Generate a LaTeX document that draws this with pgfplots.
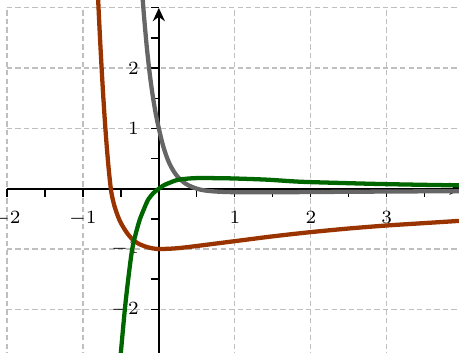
\documentclass[border=0pt]{standalone}
\usepackage{pgfplots}
\pgfplotsset{compat=1.18}
\usetikzlibrary{arrows.meta}
\definecolor{cbrown}{RGB}{153,51,0}
\definecolor{cgreen}{RGB}{0,102,0}
\definecolor{cgray}{RGB}{102,102,102}
\begin{document}
\begin{tikzpicture}
\begin{axis}[
  x=1cm, y=0.7934cm,
  axis lines=middle,
  xmin=-2, xmax=4, ymin=-2.8, ymax=3,
  clip=false,
  xtick={-2,-1,0,1,2,3,4},
  xticklabels={$-2$,$-1$,,$1$,$2$,$3$,},
  ytick={-2,-1,0,1,2,3},
  yticklabels={$-2$,$-1$,,$1$,$2$,},
  minor tick num=1,
  tick align=outside,
  major tick length=3pt,
  minor tick length=3pt,
  tick style={black, line width=0.5pt},
  grid=major,
  grid style={dash pattern=on 2pt off 1.2pt, black!25, line width=0.5pt},
  axis line style={-{Stealth[length=5pt,width=4.5pt]}, line width=0.9pt},
  every tick label/.append style={font=\fontsize{7.5}{8}\selectfont},
  xticklabel style={yshift=-2pt},
  yticklabel style={xshift=-1pt},
]
\addplot[cgray, line width=1.6pt, smooth, tension=0.5] coordinates {
(-0.235,3.55) (-0.22,3.28) (-0.20,2.94) (-0.16,2.37) (-0.12,1.91) (-0.08,1.54) (-0.04,1.24) (0,1.0)
(0.05,0.74) (0.1,0.54) (0.15,0.39) (0.2,0.28) (0.25,0.195) (0.3,0.135) (0.35,0.085)
(0.4,0.05) (0.5,0.0) (0.6,-0.028) (0.75,-0.047) (1.0,-0.058) (1.5,-0.06) (2,-0.055)
(3,-0.047) (4,-0.04)
};
\addplot[cbrown, line width=1.6pt, smooth, tension=0.5] coordinates {
(-0.807,3.37) (-0.792,2.96) (-0.772,2.45) (-0.752,1.98) (-0.732,1.55) (-0.712,1.16)
(-0.692,0.81) (-0.672,0.50) (-0.652,0.23) (-0.632,0) (-0.622,-0.08) (-0.612,-0.145)
(-0.602,-0.20) (-0.59,-0.26) (-0.575,-0.325) (-0.549,-0.42) (-0.52,-0.515) (-0.49,-0.59)
(-0.447,-0.68) (-0.40,-0.765) (-0.338,-0.85) (-0.263,-0.915) (-0.162,-0.965) (-0.08,-0.99)
(0,-1.0) (0.15,-0.995) (0.3,-0.98) (0.5,-0.95) (0.75,-0.91) (1,-0.87) (1.5,-0.79)
(2,-0.72) (2.5,-0.66) (3,-0.61) (3.5,-0.57) (4,-0.53)
};
\addplot[cgreen, line width=1.6pt, smooth, tension=0.5] coordinates {
(-0.51,-2.85) (-0.50,-2.72) (-0.447,-2.0) (-0.40,-1.47) (-0.35,-1.0) (-0.30,-0.73)
(-0.25,-0.51) (-0.19,-0.32) (-0.14,-0.18) (-0.07,-0.07) (0,0) (0.07,0.06) (0.145,0.10)
(0.23,0.14) (0.32,0.16) (0.43,0.172) (0.54,0.177) (0.75,0.175) (0.98,0.17) (1.42,0.15)
(1.855,0.116) (2.4,0.095) (2.91,0.078) (3.5,0.064) (4,0.054)
};
\coordinate (bl) at (axis cs:-2.09,-2.72);
\coordinate (tr) at (axis cs:3.95,3.13);
\end{axis}
\pgfresetboundingbox
\useasboundingbox (bl) rectangle (tr);
\end{tikzpicture}
\end{document}
